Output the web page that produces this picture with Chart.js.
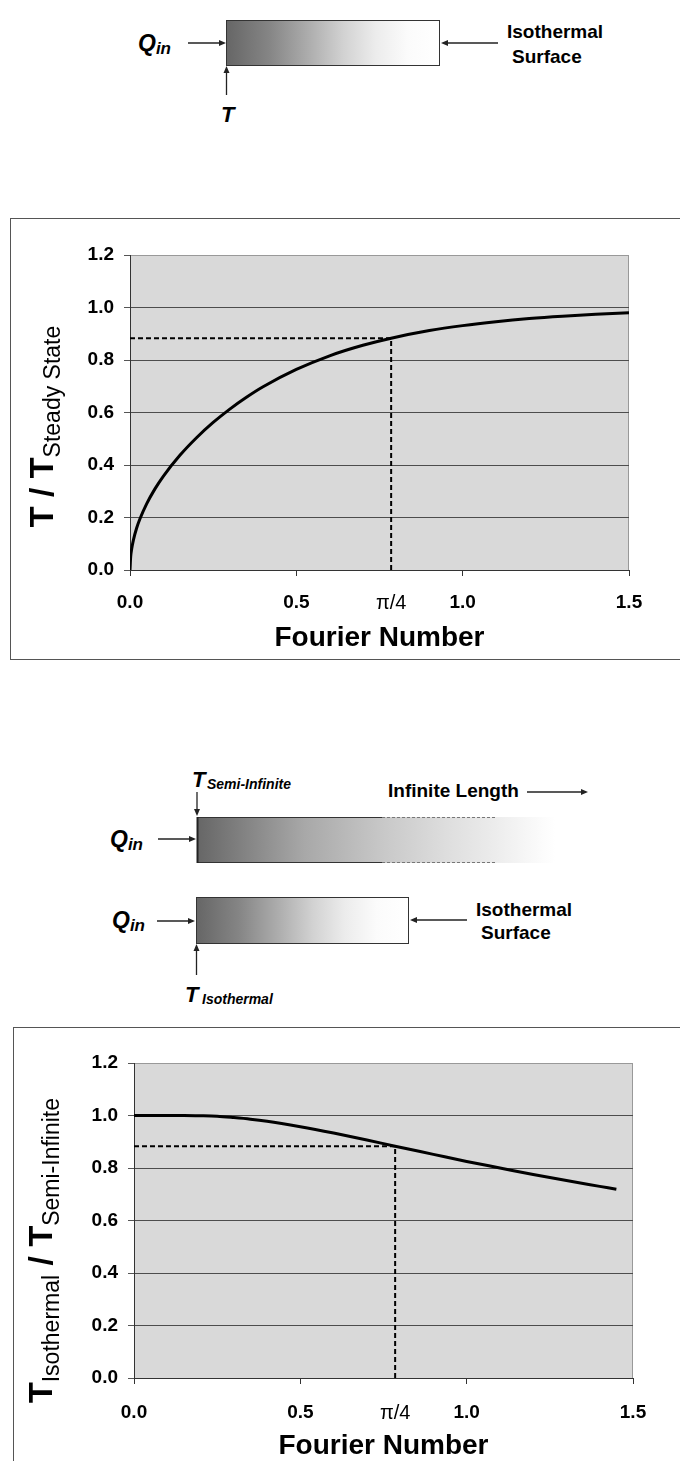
<!DOCTYPE html>
<html>
<head>
<meta charset="utf-8">
<script src="https://cdn.jsdelivr.net/npm/chart.js@4.4.1/dist/chart.umd.min.js"></script>
<style>
  body { margin: 0; width: 680px; height: 1461px; position: relative; overflow: hidden; background: #fff;
         font-family: 'Liberation Sans', Arial, sans-serif; }
  .box { position: absolute; border: 1px solid #555; border-right: none; background: #fff; }
  #box1 { left: 10px; top: 218px; width: 670px; height: 440px; }
  #box2 { left: 13px; top: 1027px; width: 667px; height: 440px; }
  .box canvas { position: absolute; left: 0; top: 0; }
  svg { position: absolute; left: 0; top: 0; }
  svg text { font-family: 'Liberation Sans', Arial, sans-serif; font-weight: bold; fill: #000; }
</style>
</head>
<body>

<svg width="680" height="1461">
  <defs>
    <linearGradient id="gIso" x1="0" x2="1" y1="0" y2="0">
      <stop offset="0" stop-color="#666"/>
      <stop offset="0.2" stop-color="#858585"/>
      <stop offset="0.4" stop-color="#b0b0b0"/>
      <stop offset="0.55" stop-color="#d2d2d2"/>
      <stop offset="0.7" stop-color="#ececec"/>
      <stop offset="0.85" stop-color="#fbfbfb"/>
      <stop offset="1" stop-color="#fff"/>
    </linearGradient>
    <linearGradient id="gSemi" x1="0" x2="1" y1="0" y2="0">
      <stop offset="0" stop-color="#666"/>
      <stop offset="0.12" stop-color="#808080"/>
      <stop offset="0.3" stop-color="#a8a8a8"/>
      <stop offset="0.52" stop-color="#c8c8c8"/>
      <stop offset="0.7" stop-color="#dedede"/>
      <stop offset="0.83" stop-color="#ececec"/>
      <stop offset="0.95" stop-color="#fafafa"/>
      <stop offset="1" stop-color="#fff"/>
    </linearGradient>
  </defs>

  <!-- finite slab, isothermal back face -->
  <text x="138" y="51" font-size="23" font-style="italic">Q<tspan font-size="17" dy="3">in</tspan></text>
  <line x1="188" y1="43" x2="221" y2="43" stroke="#222" stroke-width="1.3"/>
  <polygon points="226,43 219,40 219,46" fill="#222"/>
  <rect x="226.5" y="20.5" width="213" height="45" fill="url(#gIso)" stroke="#333"/>
  <line x1="498" y1="43" x2="446" y2="43" stroke="#222" stroke-width="1.3"/>
  <polygon points="441,43 448,40 448,46" fill="#222"/>
  <text x="507" y="38" font-size="19">Isothermal</text>
  <text x="512" y="63" font-size="19">Surface</text>
  <line x1="226.5" y1="95" x2="226.5" y2="71" stroke="#222" stroke-width="1.3"/>
  <polygon points="226.5,66 223.5,73 229.5,73" fill="#222"/>
  <text x="221" y="122" font-size="22" font-style="italic">T</text>

  <!-- semi-infinite bar -->
  <text x="192" y="787" font-size="22" font-style="italic">T</text>
  <text x="207" y="789" font-size="14" font-style="italic">Semi-Infinite</text>
  <line x1="197" y1="792" x2="197" y2="811" stroke="#222" stroke-width="1.3"/>
  <polygon points="197,816 194,809 200,809" fill="#222"/>
  <rect x="197" y="817" width="358" height="46" fill="url(#gSemi)"/>
  <line x1="197" y1="817.5" x2="382" y2="817.5" stroke="#333"/>
  <line x1="197" y1="862.5" x2="382" y2="862.5" stroke="#333"/>
  <line x1="382" y1="817.5" x2="495" y2="817.5" stroke="#777" stroke-dasharray="3,2"/>
  <line x1="382" y1="862.5" x2="495" y2="862.5" stroke="#777" stroke-dasharray="3,2"/>
  <line x1="197.5" y1="817" x2="197.5" y2="863" stroke="#222" stroke-width="2"/>
  <text x="388" y="797" font-size="19">Infinite Length</text>
  <line x1="527" y1="792" x2="583" y2="792" stroke="#222" stroke-width="1.3"/>
  <polygon points="588,792 581,789 581,795" fill="#222"/>
  <text x="110" y="847" font-size="23" font-style="italic">Q<tspan font-size="17" dy="3">in</tspan></text>
  <line x1="158" y1="839" x2="191" y2="839" stroke="#222" stroke-width="1.3"/>
  <polygon points="196,839 189,836 189,842" fill="#222"/>

  <!-- finite slab for comparison -->
  <rect x="196.5" y="897.5" width="212" height="46" fill="url(#gIso)" stroke="#333"/>
  <text x="112" y="928" font-size="23" font-style="italic">Q<tspan font-size="17" dy="3">in</tspan></text>
  <line x1="157" y1="921" x2="190" y2="921" stroke="#222" stroke-width="1.3"/>
  <polygon points="195,921 188,918 188,924" fill="#222"/>
  <line x1="467" y1="920" x2="415" y2="920" stroke="#222" stroke-width="1.3"/>
  <polygon points="410,920 417,917 417,923" fill="#222"/>
  <text x="476" y="916" font-size="19">Isothermal</text>
  <text x="481" y="939" font-size="19">Surface</text>
  <line x1="196.5" y1="975" x2="196.5" y2="949" stroke="#222" stroke-width="1.3"/>
  <polygon points="196.5,944 193.5,951 199.5,951" fill="#222"/>
  <text x="185" y="1002" font-size="22" font-style="italic">T</text>
  <text x="202" y="1004" font-size="14" font-style="italic">Isothermal</text>
</svg>

<div class="box" id="box1"><canvas id="chart1" width="670" height="440"></canvas></div>
<div class="box" id="box2"><canvas id="chart2" width="667" height="440"></canvas></div>

<script>
// surface temperature of the slab over steady state, against Fourier number
const foSteady = [0, 0.002, 0.005, 0.01, 0.02, 0.03, 0.05, 0.075, 0.1, 0.15, 0.2, 0.25, 0.3, 0.35,
  0.4, 0.5, 0.6, 0.7, 0.785, 0.9, 1.0, 1.1, 1.2, 1.3, 1.4, 1.5];
const tSteady = [0, 0.050, 0.080, 0.113, 0.160, 0.195, 0.252, 0.309, 0.357, 0.437, 0.504, 0.562, 0.613, 0.658,
  0.698, 0.764, 0.816, 0.856, 0.883, 0.912, 0.931, 0.946, 0.958, 0.967, 0.974, 0.980];

// isothermal slab over semi-infinite body
const foRatio = [0, 0.05, 0.1, 0.15, 0.2, 0.25, 0.3, 0.35, 0.4, 0.5, 0.6, 0.7, 0.785, 0.9, 1.0, 1.1,
  1.2, 1.3, 1.4, 1.45];
const tRatio = [1.000, 1.000, 1.000, 1.000, 0.999, 0.997, 0.992, 0.986, 0.978, 0.957, 0.933, 0.907, 0.883,
  0.852, 0.825, 0.800, 0.775, 0.752, 0.730, 0.719];

// pi/4 marker
const markFo = 0.785;
const markValue = 0.883;

const xTicks = [0, 0.5, 0.785, 1.0, 1.5];
const xTickLabels = ['0.0', '0.5', 'π/4', '1.0', '1.5'];
const yMin = 0;
const yMax = 1.2;
const yStep = 0.2;

const FONT = '"Liberation Sans", Arial, sans-serif';
Chart.defaults.font.family = FONT;
Chart.defaults.color = '#000';

const toPoints = (xs, ys) => xs.map((x, i) => ({ x: x, y: ys[i] }));

// grey plot area with a light frame
const plotBackground = {
  id: 'plotBackground',
  beforeDraw(chart) {
    const { ctx, chartArea: a } = chart;
    ctx.save();
    ctx.fillStyle = '#d9d9d9';
    ctx.fillRect(a.left, a.top, a.right - a.left, a.bottom - a.top);
    ctx.strokeStyle = '#999';
    ctx.lineWidth = 1;
    ctx.beginPath();
    ctx.moveTo(a.left, a.top + 0.5);
    ctx.lineTo(a.right - 0.5, a.top + 0.5);
    ctx.lineTo(a.right - 0.5, a.bottom);
    ctx.stroke();
    ctx.restore();
  },
};

// rotated y title with subscripts
const yTitle = {
  id: 'yTitle',
  afterDraw(chart, args, opts) {
    const { ctx, chartArea: a } = chart;
    ctx.save();
    ctx.translate(opts.x, (a.top + a.bottom) / 2 + opts.shift);
    ctx.rotate(-Math.PI / 2);
    let total = 0;
    opts.parts.forEach((p) => {
      ctx.font = p.font;
      total += ctx.measureText(p.text).width;
    });
    let x = -total / 2;
    ctx.fillStyle = '#000';
    ctx.textBaseline = 'alphabetic';
    opts.parts.forEach((p) => {
      ctx.font = p.font;
      ctx.fillText(p.text, x, p.dy || 0);
      x += ctx.measureText(p.text).width;
    });
    ctx.restore();
  },
};

const makeChart = (id, curve, layout, titleParts) => {
  return new Chart(document.getElementById(id), {
    type: 'line',
    data: {
      datasets: [
        {
          data: curve,
          borderColor: '#000',
          borderWidth: 3,
          pointRadius: 0,
          cubicInterpolationMode: 'monotone',
        },
        {
          data: [
            { x: 0, y: markValue },
            { x: markFo, y: markValue },
            { x: markFo, y: 0 },
          ],
          borderColor: '#000',
          borderWidth: 2,
          borderDash: [5, 3],
          pointRadius: 0,
          tension: 0,
        },
      ],
    },
    options: {
      responsive: false,
      animation: false,
      devicePixelRatio: 1,
      layout: { padding: { top: layout.top, right: layout.right, left: 0, bottom: 0 } },
      plugins: {
        legend: { display: false },
        tooltip: { enabled: false },
        yTitle: { x: layout.titleX, shift: layout.titleShift, parts: titleParts },
      },
      scales: {
        x: {
          type: 'linear',
          min: 0,
          max: 1.5,
          afterBuildTicks: (scale) => {
            scale.ticks = xTicks.map((v) => ({ value: v }));
          },
          afterFit: (scale) => {
            scale.height = layout.xHeight;
          },
          ticks: {
            padding: layout.xPad,
            maxRotation: 0,
            autoSkip: false,
            callback: (v, i) => xTickLabels[i],
            font: (c) =>
              c.tick && c.tick.value === markFo
                ? { family: FONT, size: 20, weight: 'normal' }
                : { family: FONT, size: 19, weight: 'bold' },
          },
          grid: {
            drawOnChartArea: false,
            tickLength: 6,
            tickColor: (c) => (c.tick && c.tick.value === markFo ? 'rgba(0,0,0,0)' : '#333'),
          },
          border: { display: true, color: '#333', width: 1 },
          title: {
            display: true,
            text: 'Fourier Number',
            font: { family: FONT, size: 28, weight: 'bold' },
            padding: { top: 0, bottom: layout.titlePad },
          },
        },
        y: {
          min: yMin,
          max: yMax,
          afterFit: (scale) => {
            scale.width = layout.yWidth;
          },
          ticks: {
            stepSize: yStep,
            padding: 10,
            callback: (v) => v.toFixed(1),
            font: { family: FONT, size: 19, weight: 'bold' },
          },
          grid: {
            tickLength: 6,
            tickColor: '#555',
            lineWidth: 1,
            color: (c) => (c.tick && Math.abs(c.tick.value - yMax) < 1e-6 ? '#999' : '#4d4d4d'),
          },
          border: { display: true, color: '#333', width: 1 },
        },
      },
    },
    plugins: [plotBackground, yTitle],
  });
};

makeChart(
  'chart1',
  toPoints(foSteady, tSteady),
  { top: 36, right: 52, yWidth: 119, xHeight: 89, xPad: 15, titlePad: 4, titleX: 42, titleShift: 14 },
  [
    { text: 'T / T', font: 'bold 34px "Liberation Sans"' },
    { text: 'Steady State', font: '23px "Liberation Sans"', dy: 7 },
  ]
);

makeChart(
  'chart2',
  toPoints(foRatio, tRatio),
  { top: 35, right: 48, yWidth: 120, xHeight: 90, xPad: 17, titlePad: 5, titleX: 38, titleShift: 30 },
  [
    { text: 'T', font: 'bold 34px "Liberation Sans"' },
    { text: 'Isothermal', font: '23px "Liberation Sans"', dy: 7 },
    { text: ' / T', font: 'bold 34px "Liberation Sans"' },
    { text: 'Semi-Infinite', font: '23px "Liberation Sans"', dy: 7 },
  ]
);
</script>
</body>
</html>
